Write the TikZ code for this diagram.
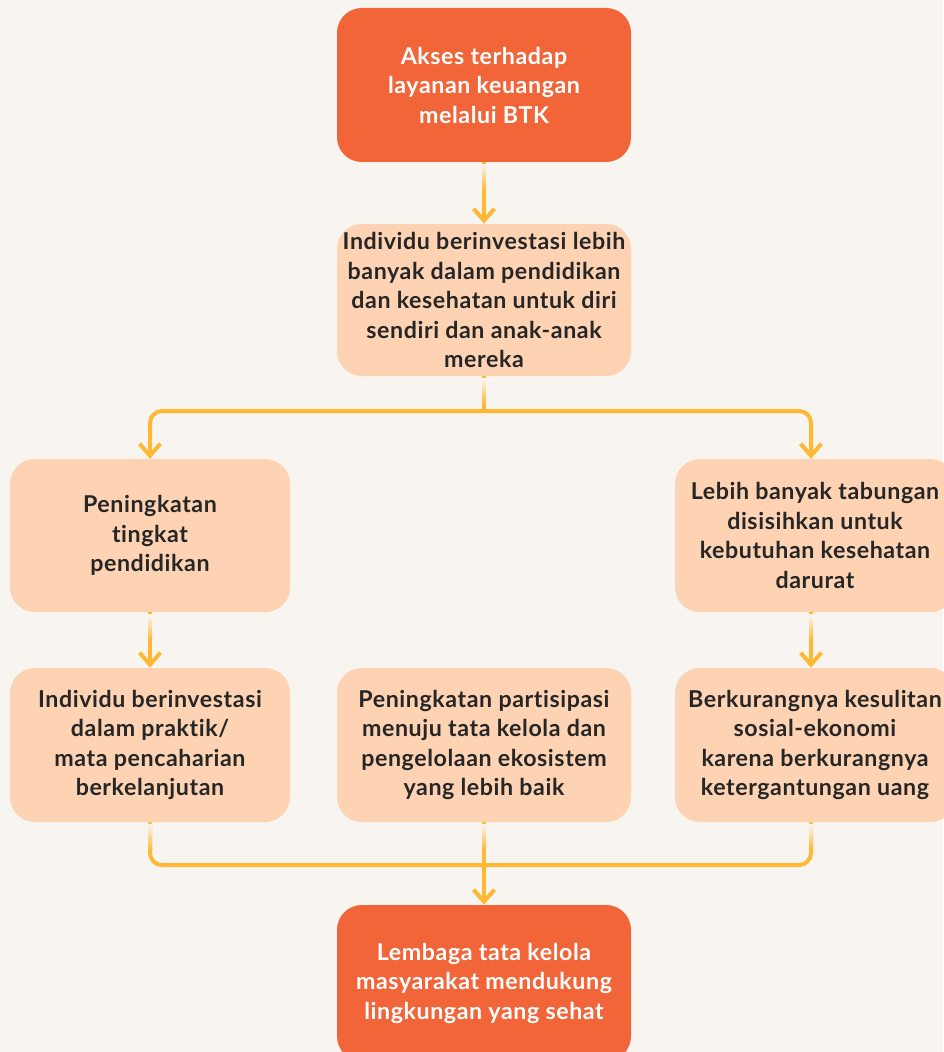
\documentclass[tikz,border=0pt]{standalone}
\usepackage{fontspec}
\setmainfont{Lato}[Ligatures=NoCommon, LetterSpace=2.5]
\usetikzlibrary{arrows.meta,calc}
\definecolor{bgc}{HTML}{F8F5F0}
\definecolor{darkbox}{HTML}{F26539}
\definecolor{lightbox}{HTML}{FDD3B3}
\definecolor{linec}{HTML}{FFB833}
\definecolor{textc}{HTML}{262626}
\tikzset{
	box/.style={rounded corners=0.62cm, align=center, inner sep=0pt, font=\bfseries\fontsize{16.5}{21}\selectfont},
	hotbox/.style={box, fill=darkbox, text=white},
	softbox/.style={box, fill=lightbox, text=textc},
	flow/.style={draw=linec, line width=1mm, rounded corners=0.3cm},
	tip/.style={-{Straight Barb[length=3mm,width=5.2mm]}}
}
\def\fadestub(#1){\shade[top color=bgc, bottom color=linec] ($(#1)+(-0.05,-0.05)$) rectangle ($(#1)+(0.05,-0.7)$);}

\begin{document}
\begin{tikzpicture}
			%%%%% START %%%%%
			
			\fill[bgc] (0, 0) rectangle (23.575, -26.3);
			\useasboundingbox (0, 0) rectangle (23.575, -26.3);
			
			\node[hotbox, minimum width=7.35cm, minimum height=3.85cm] (access) at (12.1, -2.125) {Akses terhadap\\layanan keuangan\\melalui BTK};
			\node[softbox, minimum width=7.35cm, minimum height=3.8cm] (invest) at (12.1, -7.5) {Individu berinvestasi lebih\\banyak dalam pendidikan\\dan kesehatan untuk diri\\sendiri dan anak-anak\\mereka};
			
			\node[softbox, minimum width=7cm, minimum height=3.825cm] (school) at (3.75, -13.39) {Peningkatan\\tingkat\\pendidikan};
			\node[softbox, minimum width=7cm, minimum height=3.825cm] (savings) at (20.375, -13.39) {Lebih banyak tabungan\\disisihkan untuk\\kebutuhan kesehatan\\darurat};
			
			\node[softbox, minimum width=7cm, minimum height=3.85cm] (liveli) at (3.75, -18.625) {Individu berinvestasi\\dalam praktik/\\mata pencaharian\\berkelanjutan};
			\node[softbox, minimum width=7.35cm, minimum height=3.85cm] (govern) at (12.1, -18.625) {Peningkatan partisipasi\\menuju tata kelola dan\\pengelolaan ekosistem\\yang lebih baik};
			\node[softbox, minimum width=7cm, minimum height=3.85cm] (hardship) at (20.375, -18.625) {Berkurangnya kesulitan\\sosial-ekonomi\\karena berkurangnya\\ketergantungan uang};
			
			\node[hotbox, minimum width=7.35cm, minimum height=3.9cm] (commune) at (12.1, -24.575) {Lembaga tata kelola\\masyarakat mendukung\\lingkungan yang sehat};
			
			\coordinate (split) at (12.1, -10.275);
			\coordinate (merge) at (12.1, -21.625);
			\coordinate (savtop) at ($(savings.north)+(-0.1,0)$);
			\coordinate (savbot) at ($(savings.south)+(-0.1,0)$);
			\coordinate (hardtop) at ($(hardship.north)+(-0.1,0)$);
			\coordinate (hardbot) at ($(hardship.south)+(-0.1,0)$);
			
			\draw[flow, tip] (access.south) -- (invest.north);
			
			\draw[flow] (invest.south) -- (split);
			\draw[flow, tip] (split) -| (school.north);
			\draw[flow, tip] (split) -| (savtop);
			
			\draw[flow, tip] (school.south) -- (liveli.north);
			\draw[flow, tip] (savbot) -- (hardtop);
			
			\draw[flow] (liveli.south) |- (merge);
			\draw[flow] (hardbot) |- (merge);
			\draw[flow, tip] (govern.south) -- (commune.north);
			
			\fadestub(access.south)
			\fadestub(invest.south)
			\fadestub(school.south)
			\fadestub(savbot)
			\fadestub(liveli.south)
			\fadestub(govern.south)
			\fadestub(hardbot)
			
			%%%%% END %%%%%
\end{tikzpicture}
\end{document}
